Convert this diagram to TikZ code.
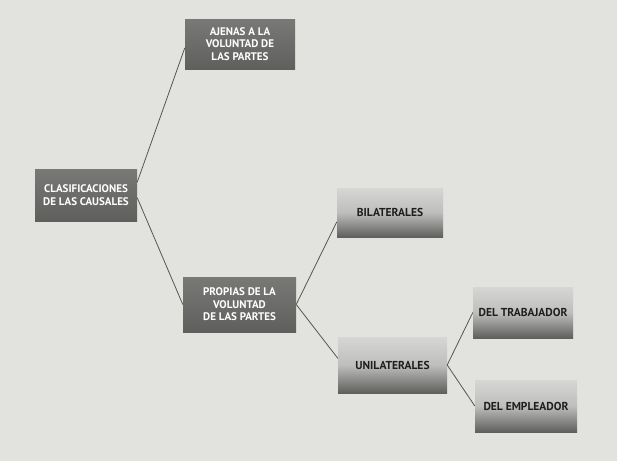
\documentclass[tikz,border=0pt]{standalone}
\usepackage{fontspec}
\setmainfont{PT Sans}
\usetikzlibrary{shadings}
\definecolor{pagebg}{RGB}{226,226,223}
\definecolor{darkbox}{RGB}{95,95,93}
\definecolor{darkboxtop}{RGB}{120,120,118}
\definecolor{lighttop}{RGB}{214,214,212}
\definecolor{lightmid}{RGB}{190,190,188}
\definecolor{lightbot}{RGB}{95,95,93}
\definecolor{linecol}{RGB}{85,85,83}
\definecolor{textdark}{RGB}{30,30,30}
\tikzset{
  darkbox/.style={rectangle, inner sep=2pt, align=center, text=white,
    top color=darkboxtop, bottom color=darkbox,
    font=\bfseries\fontsize{11}{12.5}\selectfont},
  lightbox/.style={rectangle, inner sep=2pt, align=center, text=textdark,
    top color=lighttop, bottom color=lightbot, middle color=lightmid,
    font=\bfseries\fontsize{11.5}{13}\selectfont},
  conn/.style={draw=linecol, line width=0.8pt}
}
\begin{document}
\begin{tikzpicture}[x=1pt,y=-1pt]
\fill[pagebg] (0,0) rectangle (617,461);
\useasboundingbox (0,0) rectangle (617,461);
\node[darkbox, minimum width=102pt, minimum height=52pt] (clas) at (86,195) {CLASIFICACIONES\\DE LAS CAUSALES};
\node[darkbox, minimum width=110pt, minimum height=50pt] (ajenas) at (240,44) {AJENAS A LA\\VOLUNTAD DE\\LAS PARTES};
\node[darkbox, minimum width=113pt, minimum height=55pt] (propias) at (239.5,304.5) {PROPIAS DE LA\\VOLUNTAD\\DE LAS PARTES};
\node[lightbox, minimum width=106pt, minimum height=49pt] (bilat) at (390,212.5) {BILATERALES};
\node[lightbox, minimum width=109pt, minimum height=56pt] (unilat) at (392.5,365) {UNILATERALES};
\node[lightbox, minimum width=100pt, minimum height=51pt] (trab) at (523,312.5) {DEL TRABAJADOR};
\node[lightbox, minimum width=102pt, minimum height=52pt] (empl) at (526,406) {DEL EMPLEADOR};
\draw[conn] (clas.14) -- (ajenas.184);
\draw[conn] (clas.-3) -- (propias.west);
\draw[conn] (propias.east) -- (bilat.190);
\draw[conn] (propias.east) -- (unilat.173);
\draw[conn] (unilat.east) -- (trab.west);
\draw[conn] (unilat.east) -- (empl.west);
\end{tikzpicture}
\end{document}
